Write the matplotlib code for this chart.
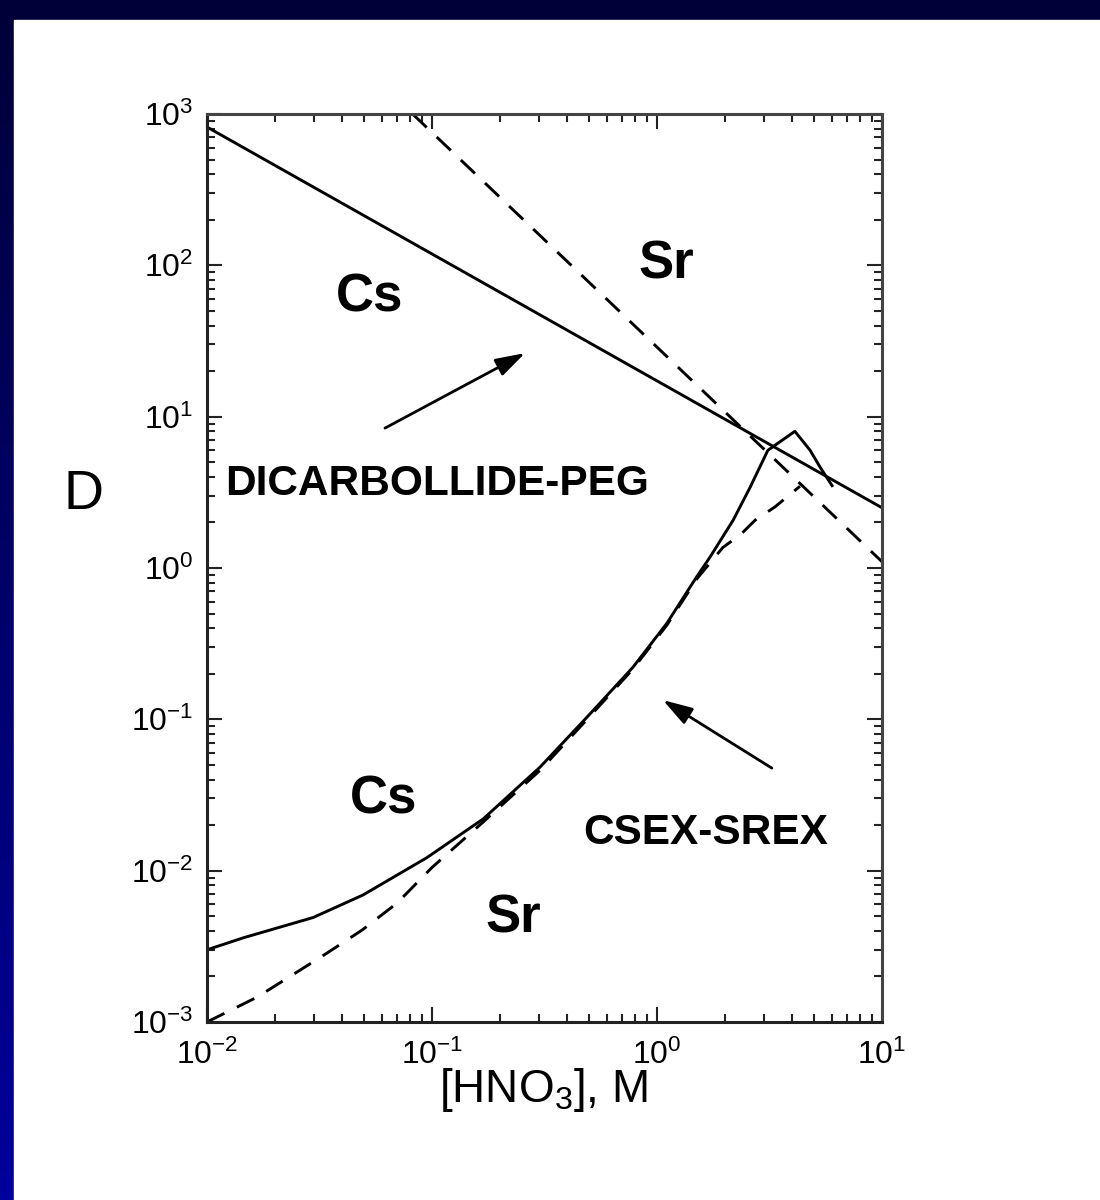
import numpy as np
import matplotlib.pyplot as plt
from matplotlib.colors import LinearSegmentedColormap
from matplotlib.patches import Rectangle
from matplotlib.ticker import LogLocator, NullFormatter

plt.rcParams['font.family'] = ['Liberation Sans', 'DejaVu Sans']
plt.rcParams['mathtext.fontset'] = 'custom'
plt.rcParams['mathtext.rm'] = 'Liberation Sans'
plt.rcParams['mathtext.default'] = 'regular'
plt.rcParams['lines.scale_dashes'] = False

# DICARBOLLIDE-PEG: Cs (solid) and Sr (dashed)
dcp_cs_x = [0.01, 10]
dcp_cs_y = [820, 2.5]
dcp_sr_x = [0.082, 10]
dcp_sr_y = [1000, 1.1]

# CSEX-SREX: Cs (solid) and Sr (dashed)
csx_cs_x = [0.01, 0.0145, 0.0296, 0.0493, 0.095, 0.169, 0.302, 0.489, 0.782,
            1.107, 1.505, 1.72, 2.18, 2.59, 3.11, 4.10, 4.79, 5.30, 6.0]
csx_cs_y = [3.0e-3, 3.6e-3, 4.9e-3, 6.9e-3, 0.0122, 0.022, 0.0483, 0.1035, 0.221,
            0.432, 0.88, 1.18, 2.07, 3.40, 6.0, 8.0, 6.0, 4.65, 3.5]
csx_sr_x = [0.01, 0.0167, 0.0239, 0.0341, 0.0489, 0.0699, 0.10, 0.169, 0.302,
            0.489, 0.782, 1.107, 1.505, 1.965, 2.34, 2.73, 3.34, 4.32]
csx_sr_y = [1.0e-3, 1.46e-3, 2.04e-3, 2.85e-3, 4.05e-3, 6.1e-3, 0.0105, 0.021, 0.046,
            0.10, 0.215, 0.42, 0.85, 1.37, 1.65, 2.07, 2.53, 3.47]

fig = plt.figure(figsize=(11, 12), dpi=100)

# slide-style frame: blue gradient with a white panel
bg = fig.add_axes([0, 0, 1, 1], zorder=-10)
frame_cmap = LinearSegmentedColormap.from_list('frame', ['#000038', '#00009c'])
bg.imshow(np.linspace(0, 1, 256).reshape(-1, 1), aspect='auto', cmap=frame_cmap,
          extent=[0, 1, 0, 1], origin='upper')
bg.add_patch(Rectangle((14 / 1100, 0), 1, 1 - 20 / 1200, color='white', zorder=2))
bg.set_xlim(0, 1)
bg.set_ylim(0, 1)
bg.axis('off')

ax = fig.add_axes([207 / 1100, 1 - 1022 / 1200, 675 / 1100, 908 / 1200])
ax.set_xscale('log')
ax.set_yscale('log')
ax.set_xlim(1e-2, 1e1)
ax.set_ylim(1e-3, 1e3)

dash = (0, (14, 10))
ax.plot(dcp_cs_x, dcp_cs_y, color='black', lw=2.1)
ax.plot(dcp_sr_x, dcp_sr_y, color='black', lw=2.1, linestyle=dash)
ax.plot(csx_cs_x, csx_cs_y, color='black', lw=2.1)
ax.plot(csx_sr_x, csx_sr_y, color='black', lw=2.1, linestyle=dash)

# arrows pointing at each pair of curves
arrow = dict(arrowstyle='-|>,head_length=0.9,head_width=0.28', mutation_scale=20,
             lw=2, color='black', shrinkA=0, shrinkB=0)
ax.annotate('', xy=(0.259, 26.3), xytext=(0.0618, 8.4), arrowprops=arrow)
ax.annotate('', xy=(1.063, 0.134), xytext=(3.24, 0.0476), arrowprops=arrow)

big = dict(fontsize=38, fontweight='bold', ha='center', va='center', transform=ax.transAxes)
ax.text(0.241, 0.798, 'Cs', **big)
ax.text(0.681, 0.834, 'Sr', **big)
ax.text(0.261, 0.2445, 'Cs', **big)
ax.text(0.453, 0.1145, 'Sr', **big)
ax.text(0.027, 0.593, 'DICARBOLLIDE-PEG', fontsize=30.5, fontweight='bold',
        ha='left', va='center', transform=ax.transAxes)
ax.text(0.557, 0.208, 'CSEX-SREX', fontsize=30.5, fontweight='bold',
        ha='left', va='center', transform=ax.transAxes)

ax.xaxis.set_major_locator(LogLocator(base=10, numticks=20))
ax.yaxis.set_major_locator(LogLocator(base=10, numticks=20))
for axis in (ax.xaxis, ax.yaxis):
    axis.set_minor_locator(LogLocator(base=10, subs=np.arange(2, 10), numticks=100))
    axis.set_minor_formatter(NullFormatter())

ax.tick_params(which='both', direction='in', top=True, right=True, width=1.5,
               color='#222222', labelsize=23)
ax.tick_params(axis='x', pad=13)
ax.tick_params(axis='y', pad=10)
ax.tick_params(which='major', length=11)
ax.tick_params(which='minor', length=6)
for side, spine in ax.spines.items():
    spine.set_linewidth(2.2)
    spine.set_color('#222222' if side in ('left', 'bottom') else '#444444')

fig.text(83 / 1100, 1 - 495 / 1200, 'D', fontsize=40, ha='center', va='center')
fig.text(543 / 1100, 1 - 1090 / 1200, '[HNO$_3$], M', fontsize=33, ha='center', va='center')

fig.savefig('out.png', dpi=100)
